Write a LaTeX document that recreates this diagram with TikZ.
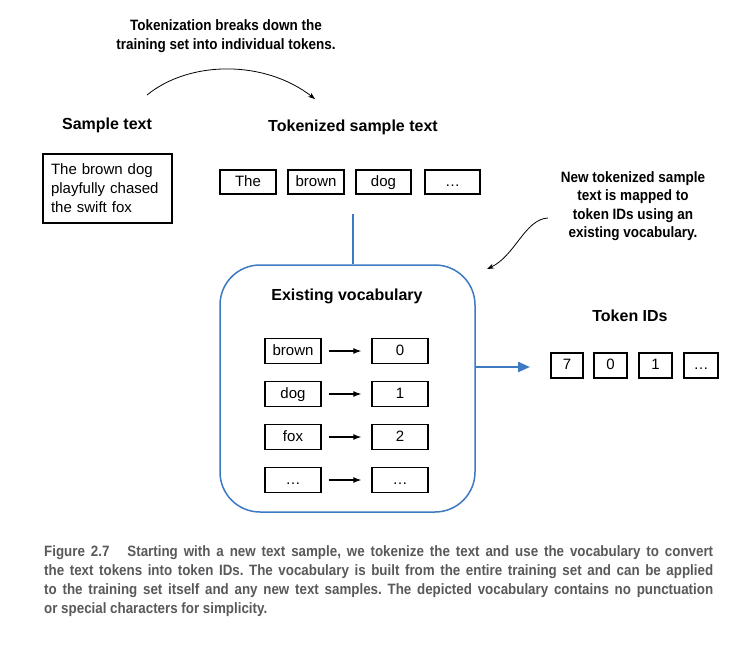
\documentclass[tikz,border=0pt]{standalone}
\usepackage{fontspec}
\setmainfont{Liberation Sans}
\newfontfamily\notefont[FakeStretch=0.9]{Liberation Sans}
\newfontfamily\capfont[FakeStretch=0.89]{Liberation Sans}
\usetikzlibrary{calc}
\usetikzlibrary{shapes,arrows,arrows.meta}
\definecolor{vocabblue}{RGB}{62,122,196}
\definecolor{capgray}{RGB}{88,89,91}
\tikzset{
  tokbox/.style={draw=black,line width=1.3pt,inner sep=0pt,minimum height=24pt,text height=11pt,text depth=3pt,font=\fontsize{15}{18}\selectfont},
  head/.style={font=\fontsize{16}{19}\selectfont\bfseries},
  note/.style={align=center,font=\notefont\fontsize{15}{18.5}\selectfont\bfseries}
}
\newcommand{\capline}[1]{\makebox[669pt][s]{#1}}
\frenchspacing
\begin{document}
\begin{tikzpicture}[x=1pt,y=-1pt]
    \useasboundingbox[fill=white] (0,0) rectangle (750,654);
    \coordinate (Start) at (147,95);
    \coordinate (End) at (315,99);
    \coordinate (NoteStart) at (548,218);
    \coordinate (NoteEnd) at (487,269);
    \coordinate (TokLine) at (353,214);
    \coordinate (IdsIn) at (530,367);
    % callouts
    \node[note] (tokenote) at (226,36) {Tokenization breaks down the\\training set into individual tokens.};
    \draw [-{Stealth[length=7pt,width=5pt]},line width=0.8pt] (Start) .. controls (190,60) and (265,60) .. (End);
    \node[note] (mapnote) at (633,206) {New tokenized sample\\text is mapped to\\token IDs using an\\existing vocabulary.};
    \draw [-{Stealth[length=7pt,width=5pt]},line width=0.8pt] (NoteStart) .. controls (525,219) and (515,256) .. (NoteEnd);
    % sample text
    \node[head] (samplehead) at (107,125) {Sample text};
    \node[draw=black,line width=1.3pt,minimum width=129pt,minimum height=69pt,text width=113pt,inner xsep=8pt,align=left,font=\fontsize{15}{19}\selectfont] (sample) at (107.5,188.5) {The brown dog\\playfully chased\\the swift fox};
    % tokenized text
    \node[head] (tokhead) at (353,127) {Tokenized sample text};
    \node[tokbox,minimum width=56pt] (tok1) at (248,182) {The};
    \node[tokbox,minimum width=56pt] (tok2) at (316,182) {brown};
    \node[tokbox,minimum width=55pt] (tok3) at (383.5,182) {dog};
    \node[tokbox,minimum width=55pt] (tok4) at (452.5,182) {\dots};
    % vocabulary
    \node[draw=vocabblue,line width=1.5pt,rounded corners=40pt,minimum width=255pt,minimum height=247pt] (vocab) at (347.5,388.5) {};
    \draw [vocabblue,line width=2.2pt] (TokLine)--(TokLine |- vocab.north);
    \node[head] (vocabhead) at (347,296) {Existing vocabulary};
    \foreach \word/\id/\y [count=\i] in {brown/0/351,dog/1/394,fox/2/437,\dots/\dots/480}{
      \node[tokbox,minimum width=56pt,minimum height=25pt] (word\i) at (293,\y) {\word};
      \node[tokbox,minimum width=56pt,minimum height=25pt] (id\i) at (400,\y) {\id};
      \draw [-{Latex[length=8pt,width=6pt]},line width=1.2pt,shorten <=7pt,shorten >=10pt] (word\i)--(id\i);
    }
    % token ids
    \draw [vocabblue,line width=2.2pt,-{Triangle[length=12pt,width=10pt]}] (IdsIn -| vocab.east)--(IdsIn);
    \node[head] (idhead) at (630,316) {Token IDs};
    \node[tokbox,minimum width=32pt,minimum height=25pt] (ids1) at (567,365.5) {7};
    \node[tokbox,minimum width=33pt,minimum height=25pt] (ids2) at (610.5,365.5) {0};
    \node[tokbox,minimum width=33pt,minimum height=25pt] (ids3) at (655.5,365.5) {1};
    \node[tokbox,minimum width=34pt,minimum height=25pt] (ids4) at (701,365.5) {\dots};
    % caption
    \node[anchor=north west,inner sep=0pt,align=left,text=capgray,font=\capfont\fontsize{15}{19}\selectfont\bfseries] (caption) at (44,545) {%
      \capline{Figure 2.7\hspace{1.2em}Starting with a new text sample, we tokenize the text and use the vocabulary to convert}\\
      \capline{the text tokens into token IDs. The vocabulary is built from the entire training set and can be applied}\\
      \capline{to the training set itself and any new text samples. The depicted vocabulary contains no punctuation}\\
      or special characters for simplicity.};
\end{tikzpicture}
\end{document}
